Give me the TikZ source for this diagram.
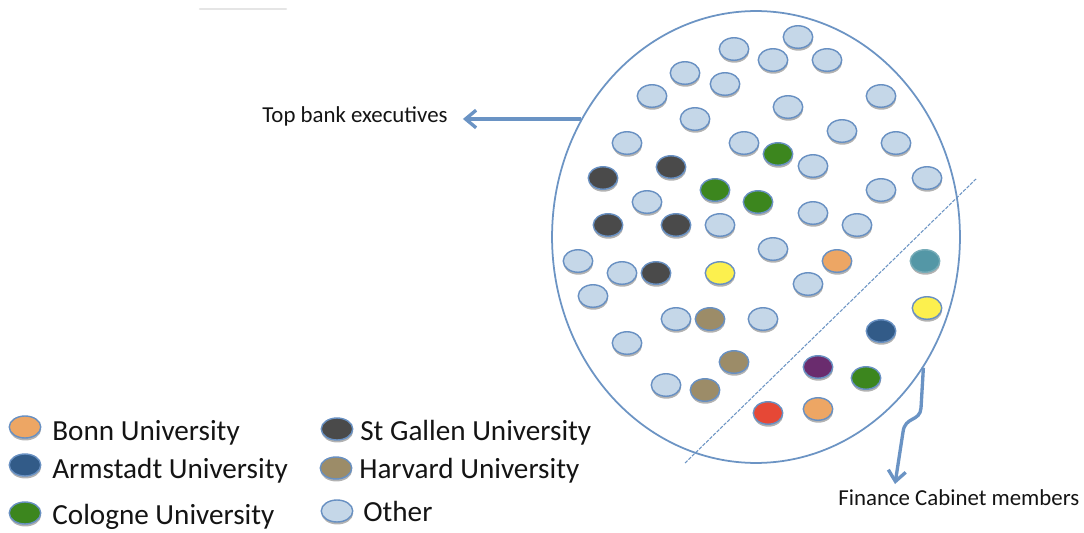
\documentclass[tikz,border=0pt]{standalone}
\usepackage{fontspec}
\setmainfont{Carlito}
\usetikzlibrary{shapes.geometric,shadows,arrows.meta}
\definecolor{ellc}{HTML}{6C94C4}
\definecolor{dotline}{HTML}{6890C2}
\definecolor{arrowc}{HTML}{6A93C4}
\definecolor{oth}{HTML}{C5D7E8}
\definecolor{dk}{HTML}{4A4A4A}
\definecolor{gr}{HTML}{3C861E}
\definecolor{ye}{HTML}{FCF04E}
\definecolor{hv}{HTML}{9C8C68}
\definecolor{orn}{HTML}{EDA664}
\definecolor{te}{HTML}{5497A6}
\definecolor{ar}{HTML}{325B88}
\definecolor{pu}{HTML}{6A2C6E}
\definecolor{re}{HTML}{E64836}
\definecolor{txt}{HTML}{141414}
\begin{document}
\begin{tikzpicture}[x=0.02cm,y=-0.02cm,
  dot/.style={ellipse, inner sep=0pt, minimum width=0.59cm, minimum height=0.45cm,
    draw=dotline, line width=0.8pt,
    drop shadow={shadow xshift=0.2pt, shadow yshift=-1.4pt, opacity=0.3, fill=black}},
  ldot/.style={dot, minimum width=0.63cm, minimum height=0.44cm},
  conn/.style={draw=arrowc, line width=1.9pt, -{Straight Barb[length=6pt,width=10pt]}},
  lbl/.style={inner sep=0pt, anchor=base west, text=txt, font=\fontsize{13}{15}\selectfont},
  leg/.style={inner sep=0pt, anchor=base west, text=txt, font=\fontsize{16.6}{19}\selectfont},
  dashline/.style={draw=ellc, line width=0.6pt, dash pattern=on 2pt off 0.8pt},
  bigshape/.style={ellipse, draw=ellc, line width=1pt, inner sep=0pt,
    minimum width=8.16cm, minimum height=9.04cm},
]
\useasboundingbox (0,0) rectangle (1084,533);
\fill[white] (0,0) rectangle (1084,533);
% faint smudge at top
\draw[black!20, line width=1.2pt, line cap=round, opacity=0.5] (200,9) -- (286,9);

% big oval
\node[bigshape] (big) at (756,237) {};
\coordinate (ta) at (big.146);
\coordinate (fb) at (big.-38);

% dividing dashed line
\coordinate (da) at (685,463);
\coordinate (db) at (976,179);
\draw[dashline] (da) -- (db);

% other
\foreach \x/\y [count=\i] in {734/49,798/37,773/60,827/60,685/73,725/84,652/96,881/96,
  788/107,695/119,842/131,627/143,744/143,896/143,813/166,647/202,720/225,813/213,
  881/190,927/178,857/225,773/249,578/261,622/273,593/296,808/284,676/319,763/319,
  627/343,666/385}
  \node[dot, fill=oth] (o\i) at (\x,\y) {};
% St Gallen
\foreach \x/\y [count=\i] in {603/178,671/167,608/225,676/225,656/273}
  \node[dot, fill=dk] (s\i) at (\x,\y) {};
% Cologne
\foreach \x/\y [count=\i] in {778/154,715/190,758/202,866/378}
  \node[dot, fill=gr] (c\i) at (\x,\y) {};
% yellow
\foreach \x/\y [count=\i] in {720/273,927/308}
  \node[dot, fill=ye] (y\i) at (\x,\y) {};
% Harvard
\foreach \x/\y [count=\i] in {710/319,734/362,705/390}
  \node[dot, fill=hv] (h\i) at (\x,\y) {};
% Bonn
\foreach \x/\y [count=\i] in {837/261,818/409}
  \node[dot, fill=orn] (b\i) at (\x,\y) {};
\node[dot, fill=te, draw=te!80!white] (t1) at (925,261) {};
\node[dot, fill=ar] (a1) at (881,331) {};
\node[dot, fill=pu] (p1) at (818,367) {};
\node[dot, fill=re] (r1) at (768,413) {};

% labels and arrows
\node[lbl] (tl) at (262,123) {Top bank executives};
\coordinate (tt) at ([xshift=0.3cm]tl.east);
\draw[conn] (ta) -- (tt |- ta);

\node[lbl] (fc) at (838,505) {Finance Cabinet members};
\coordinate (fe) at (895,484);
\draw[conn] (fb) -- (921,408) .. controls (920,422) and (905,416) .. (903,432) -- (fe);

% legend
\node[ldot, fill=orn] (lb) at (25,427) {};
\node[leg] (lbt) at (52,440) {Bonn University};
\node[ldot, fill=ar] (la) at (25,465) {};
\node[leg] (lat) at (52,478) {Armstadt University};
\node[ldot, fill=gr] (lc) at (25,513) {};
\node[leg] (lct) at (52,524) {Cologne University};
\node[ldot, fill=dk] (ls) at (337,429) {};
\node[leg] (lst) at (360,440) {St Gallen University};
\node[ldot, fill=hv] (lh) at (336,468) {};
\node[leg] (lht) at (359,478) {Harvard University};
\node[ldot, fill=oth] (lo) at (337,511) {};
\node[leg] (lot) at (363,521) {Other};
\end{tikzpicture}
\end{document}
